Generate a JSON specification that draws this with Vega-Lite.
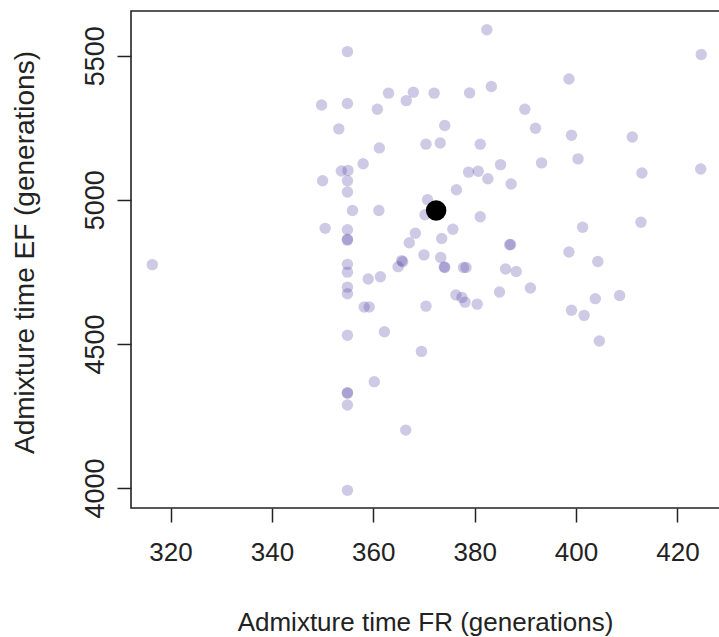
{
  "$schema": "https://vega.github.io/schema/vega-lite/v6.json",
  "autosize": "none",
  "width": 590,
  "height": 497,
  "padding": {"left": 131, "top": 11, "right": 0, "bottom": 129},
  "background": "white",
  "config": {
    "view": {"stroke": "#222", "strokeWidth": 1.6},
    "font": "Liberation Sans",
    "axis": {
      "grid": false,
      "domain": false,
      "ticks": true,
      "tickColor": "#222",
      "tickWidth": 1.5,
      "tickSize": 14,
      "labelColor": "#222",
      "titleColor": "#222",
      "labelFont": "Liberation Sans",
      "titleFont": "Liberation Sans",
      "labelFontSize": 26,
      "titleFontSize": 26,
      "titleFontWeight": "normal",
      "format": "d"
    }
  },
  "data": {
    "values": [
      {"fr": 316.4, "ef": 4775, "kind": "sim"},
      {"fr": 354.9, "ef": 5514, "kind": "sim"},
      {"fr": 363.0, "ef": 5370, "kind": "sim"},
      {"fr": 367.9, "ef": 5373, "kind": "sim"},
      {"fr": 366.5, "ef": 5344, "kind": "sim"},
      {"fr": 372.0, "ef": 5370, "kind": "sim"},
      {"fr": 349.8, "ef": 5329, "kind": "sim"},
      {"fr": 354.9, "ef": 5334, "kind": "sim"},
      {"fr": 360.8, "ef": 5314, "kind": "sim"},
      {"fr": 353.2, "ef": 5246, "kind": "sim"},
      {"fr": 374.1, "ef": 5258, "kind": "sim"},
      {"fr": 361.2, "ef": 5180, "kind": "sim"},
      {"fr": 370.4, "ef": 5193, "kind": "sim"},
      {"fr": 373.2, "ef": 5197, "kind": "sim"},
      {"fr": 358.0, "ef": 5125, "kind": "sim"},
      {"fr": 353.7, "ef": 5100, "kind": "sim"},
      {"fr": 355.0, "ef": 5102, "kind": "sim"},
      {"fr": 350.0, "ef": 5066, "kind": "sim"},
      {"fr": 354.9, "ef": 5066, "kind": "sim"},
      {"fr": 354.9, "ef": 5027, "kind": "sim"},
      {"fr": 355.9, "ef": 4963, "kind": "sim"},
      {"fr": 361.1, "ef": 4963, "kind": "sim"},
      {"fr": 350.5, "ef": 4901, "kind": "sim"},
      {"fr": 354.9, "ef": 4896, "kind": "sim"},
      {"fr": 354.9, "ef": 4863, "kind": "sim"},
      {"fr": 354.9, "ef": 4860, "kind": "sim"},
      {"fr": 368.3, "ef": 4884, "kind": "sim"},
      {"fr": 367.1, "ef": 4851, "kind": "sim"},
      {"fr": 373.5, "ef": 4866, "kind": "sim"},
      {"fr": 370.0, "ef": 4809, "kind": "sim"},
      {"fr": 373.3, "ef": 4800, "kind": "sim"},
      {"fr": 354.9, "ef": 4776, "kind": "sim"},
      {"fr": 365.6, "ef": 4789, "kind": "sim"},
      {"fr": 365.8, "ef": 4785, "kind": "sim"},
      {"fr": 364.9, "ef": 4768, "kind": "sim"},
      {"fr": 354.9, "ef": 4749, "kind": "sim"},
      {"fr": 354.9, "ef": 4697, "kind": "sim"},
      {"fr": 354.9, "ef": 4674, "kind": "sim"},
      {"fr": 359.0, "ef": 4725, "kind": "sim"},
      {"fr": 361.4, "ef": 4733, "kind": "sim"},
      {"fr": 374.1, "ef": 4765, "kind": "sim"},
      {"fr": 374.0, "ef": 4767, "kind": "sim"},
      {"fr": 377.8, "ef": 4765, "kind": "sim"},
      {"fr": 378.3, "ef": 4765, "kind": "sim"},
      {"fr": 386.1, "ef": 4760, "kind": "sim"},
      {"fr": 388.2, "ef": 4751, "kind": "sim"},
      {"fr": 376.3, "ef": 4670, "kind": "sim"},
      {"fr": 377.5, "ef": 4661, "kind": "sim"},
      {"fr": 378.1, "ef": 4645, "kind": "sim"},
      {"fr": 380.5, "ef": 4638, "kind": "sim"},
      {"fr": 384.9, "ef": 4680, "kind": "sim"},
      {"fr": 391.0, "ef": 4694, "kind": "sim"},
      {"fr": 399.1, "ef": 4617, "kind": "sim"},
      {"fr": 401.6, "ef": 4599, "kind": "sim"},
      {"fr": 404.3, "ef": 4786, "kind": "sim"},
      {"fr": 403.8, "ef": 4657, "kind": "sim"},
      {"fr": 408.6, "ef": 4668, "kind": "sim"},
      {"fr": 404.6, "ef": 4510, "kind": "sim"},
      {"fr": 358.2, "ef": 4628, "kind": "sim"},
      {"fr": 359.2, "ef": 4628, "kind": "sim"},
      {"fr": 370.4, "ef": 4631, "kind": "sim"},
      {"fr": 354.9, "ef": 4530, "kind": "sim"},
      {"fr": 362.2, "ef": 4542, "kind": "sim"},
      {"fr": 369.5, "ef": 4474, "kind": "sim"},
      {"fr": 360.2, "ef": 4369, "kind": "sim"},
      {"fr": 354.9, "ef": 4331, "kind": "sim"},
      {"fr": 354.9, "ef": 4329, "kind": "sim"},
      {"fr": 354.9, "ef": 4288, "kind": "sim"},
      {"fr": 366.4, "ef": 4201, "kind": "sim"},
      {"fr": 354.9, "ef": 3992, "kind": "sim"},
      {"fr": 382.4, "ef": 5590, "kind": "sim"},
      {"fr": 424.7, "ef": 5504, "kind": "sim"},
      {"fr": 398.6, "ef": 5419, "kind": "sim"},
      {"fr": 379.0, "ef": 5371, "kind": "sim"},
      {"fr": 383.3, "ef": 5393, "kind": "sim"},
      {"fr": 389.9, "ef": 5314, "kind": "sim"},
      {"fr": 392.0, "ef": 5248, "kind": "sim"},
      {"fr": 399.1, "ef": 5224, "kind": "sim"},
      {"fr": 411.1, "ef": 5218, "kind": "sim"},
      {"fr": 381.1, "ef": 5193, "kind": "sim"},
      {"fr": 385.1, "ef": 5122, "kind": "sim"},
      {"fr": 393.2, "ef": 5128, "kind": "sim"},
      {"fr": 400.4, "ef": 5142, "kind": "sim"},
      {"fr": 413.0, "ef": 5093, "kind": "sim"},
      {"fr": 424.6, "ef": 5107, "kind": "sim"},
      {"fr": 378.8, "ef": 5096, "kind": "sim"},
      {"fr": 380.7, "ef": 5099, "kind": "sim"},
      {"fr": 382.6, "ef": 5073, "kind": "sim"},
      {"fr": 387.2, "ef": 5055, "kind": "sim"},
      {"fr": 376.4, "ef": 5035, "kind": "sim"},
      {"fr": 370.7, "ef": 5000, "kind": "sim"},
      {"fr": 370.2, "ef": 4948, "kind": "sim"},
      {"fr": 381.1, "ef": 4941, "kind": "sim"},
      {"fr": 401.3, "ef": 4905, "kind": "sim"},
      {"fr": 412.8, "ef": 4922, "kind": "sim"},
      {"fr": 375.7, "ef": 4898, "kind": "sim"},
      {"fr": 386.9, "ef": 4844, "kind": "sim"},
      {"fr": 387.1, "ef": 4845, "kind": "sim"},
      {"fr": 398.6, "ef": 4819, "kind": "sim"},
      {"fr": 372.4, "ef": 4963, "kind": "obs"}
    ]
  },
  "encoding": {
    "x": {
      "field": "fr",
      "type": "quantitative",
      "scale": {"domain": [312.2, 428.6], "nice": false, "zero": false},
      "axis": {
        "title": "Admixture time FR (generations)",
        "values": [320, 340, 360, 380, 400, 420],
        "labelPadding": 30,
        "labelBaseline": "middle",
        "titleY": 114,
        "titleX": 294,
        "titleBaseline": "middle"
      }
    },
    "y": {
      "field": "ef",
      "type": "quantitative",
      "scale": {"domain": [3930.7, 5655], "nice": false, "zero": false},
      "axis": {
        "title": "Admixture time EF (generations)",
        "values": [4000, 4500, 5000, 5500],
        "labelAngle": -90,
        "labelAlign": "center",
        "labelBaseline": "middle",
        "labelPadding": 22,
        "labelFontSize": 27,
        "titleFontSize": 28,
        "titleX": -106,
        "titleY": 241,
        "titleAngle": -90,
        "titleAlign": "center",
        "titleBaseline": "middle"
      }
    }
  },
  "layer": [
    {
      "transform": [{"filter": "datum.kind === 'sim'"}],
      "mark": {"type": "circle", "size": 130, "color": "#3c2d9b", "opacity": 0.25}
    },
    {
      "transform": [{"filter": "datum.kind === 'obs'"}],
      "mark": {"type": "circle", "size": 420, "color": "#000000", "opacity": 1}
    }
  ]
}
